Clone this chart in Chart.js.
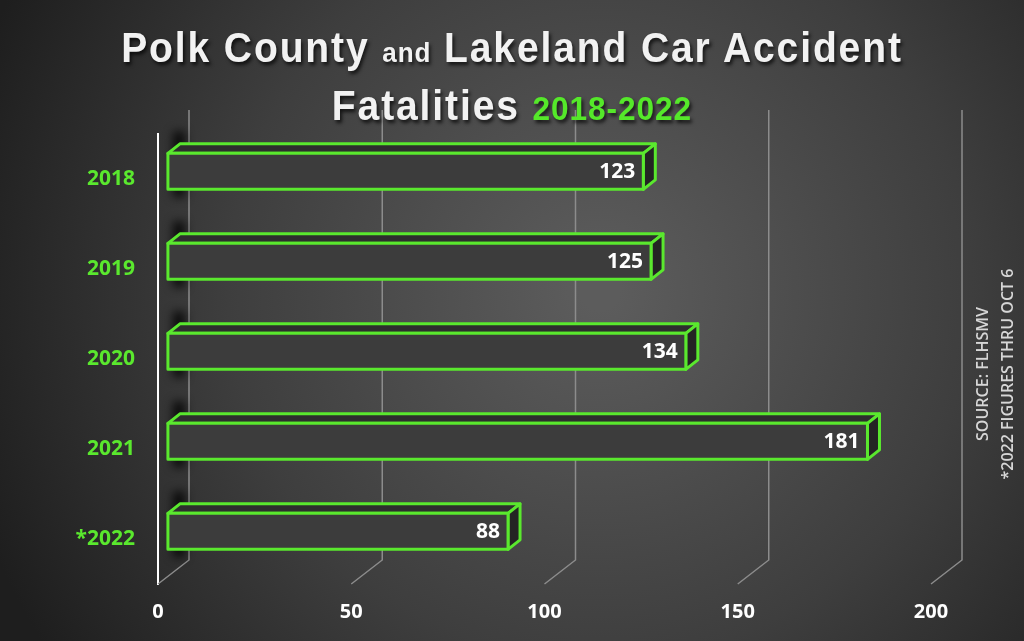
<!DOCTYPE html>
<html>
<head>
<meta charset="utf-8">
<script src="https://cdn.jsdelivr.net/npm/chart.js@4.4.1/dist/chart.umd.min.js"></script>
<style>
  html, body { margin: 0; padding: 0; background: #222; }
  #wrap { position: relative; width: 1024px; height: 641px; overflow: hidden; }
  #chart { position: absolute; left: 0; top: 0; }
  #title {
    position: absolute; left: 0; top: 21px; width: 1024px; text-align: center;
    font-family: "Liberation Sans", Arial, sans-serif;
    font-weight: bold; color: #f2f2f2; font-size: 42px; line-height: 53px;
    letter-spacing: 2px; text-shadow: 2px 3px 4px rgba(0,0,0,0.7);
    transform: scaleX(0.93); transform-origin: 512px 0;
  }
  #title .small { font-size: 28px; letter-spacing: 1px; }
  #title .green { color: #55e82a; font-size: 34px; letter-spacing: 1px; }
  #note {
    position: absolute; left: 995px; top: 374px; width: 280px;
    transform: translate(-50%, -50%) rotate(-90deg);
    text-align: center; font-family: "Open Sans", sans-serif; font-weight: 600;
    font-size: 16px; line-height: 25px; color: #d6d6d6;
  }
</style>
</head>
<body>
<div id="wrap">
  <canvas id="chart" width="1024" height="641"></canvas>
  <div id="title">Polk County <span class="small">and</span> Lakeland Car Accident<br>Fatalities <span class="green">2018-2022</span></div>
  <div id="note">SOURCE: FLHSMV<br>*2022 FIGURES THRU OCT 6</div>
</div>
<script>
// ── Data ──────────────────────────────────────
const years      = ['2018', '2019', '2020', '2021', '*2022'];
const fatalities = [123, 125, 134, 181, 88];
const xTicks     = [0, 50, 100, 150, 200];

const GREEN = '#5ae82e';
// depth of the 3D "room" (floor / back wall) and of the bars inside it
const ROOM  = { dx: 31, dy: -24 };
const FRONT = 0.32;              // bar front face position in the depth
const BAR_D = { dx: 12, dy: -9.5 };

// ── Background + 3D grid ──────────────────────
const roomPlugin = {
  id: 'room',
  beforeDraw(chart) {
    const { ctx, width, height } = chart;
    ctx.save();
    const g = ctx.createRadialGradient(600, 290, 20, 600, 290, 660);
    g.addColorStop(0, '#5c5c5c');
    g.addColorStop(0.55, '#3e3e3e');
    g.addColorStop(1, '#1e1e1e');
    ctx.fillStyle = g;
    ctx.fillRect(0, 0, width, height);
    ctx.restore();
  },
  beforeDatasetsDraw(chart) {
    const { ctx, chartArea: a, scales: { x } } = chart;
    ctx.save();
    // gridlines: floor diagonal + back wall vertical
    ctx.strokeStyle = '#8c8c8c';
    ctx.lineWidth = 1.5;
    xTicks.forEach((v) => {
      const px = x.getPixelForValue(v);
      ctx.beginPath();
      ctx.moveTo(px, a.bottom);
      ctx.lineTo(px + ROOM.dx, a.bottom + ROOM.dy);
      ctx.lineTo(px + ROOM.dx, a.top + ROOM.dy);
      ctx.stroke();
    });
    // shadows of the bars on the left wall
    const meta = chart.getDatasetMeta(0);
    ctx.filter = 'blur(5px)';
    ctx.fillStyle = 'rgba(0,0,0,0.8)';
    meta.data.forEach((bar) => {
      const top = bar.y - bar.height / 2 + ROOM.dy * FRONT;
      ctx.fillRect(a.left + 15, top - 22, 12, bar.height + 30);
    });
    ctx.restore();
  },
  afterDatasetsDraw(chart) {
    const { ctx } = chart;
    const meta = chart.getDatasetMeta(0);
    ctx.save();
    ctx.lineWidth = 3;
    ctx.lineJoin = 'round';
    ctx.strokeStyle = GREEN;
    meta.data.forEach((bar, i) => {
      const ox = ROOM.dx * FRONT, oy = ROOM.dy * FRONT;
      const x0 = bar.base + ox, x1 = bar.x + ox;
      const y0 = bar.y - bar.height / 2 + oy, y1 = bar.y + bar.height / 2 + oy;
      const { dx, dy } = BAR_D;
      // top face
      ctx.beginPath();
      ctx.moveTo(x0, y0); ctx.lineTo(x0 + dx, y0 + dy);
      ctx.lineTo(x1 + dx, y0 + dy); ctx.lineTo(x1, y0); ctx.closePath();
      ctx.fillStyle = '#2e2e2e'; ctx.fill(); ctx.stroke();
      // right face
      ctx.beginPath();
      ctx.moveTo(x1, y0); ctx.lineTo(x1 + dx, y0 + dy);
      ctx.lineTo(x1 + dx, y1 + dy); ctx.lineTo(x1, y1); ctx.closePath();
      ctx.fillStyle = '#242424'; ctx.fill(); ctx.stroke();
      // front face
      ctx.fillStyle = '#3c3c3c';
      ctx.fillRect(x0, y0, x1 - x0, y1 - y0);
      ctx.strokeRect(x0, y0, x1 - x0, y1 - y0);
      // value label
      ctx.fillStyle = '#ffffff';
      ctx.font = 'bold 21px "Open Sans", sans-serif';
      ctx.textAlign = 'right';
      ctx.textBaseline = 'middle';
      ctx.fillText(String(fatalities[i]), x1 - 8, (y0 + y1) / 2 + 1);
    });
    ctx.restore();
  }
};

// ── Chart ─────────────────────────────────────
new Chart(document.getElementById('chart'), {
  type: 'bar',
  data: {
    labels: years,
    datasets: [{
      data: fatalities,
      backgroundColor: 'rgba(0,0,0,0)',
      borderWidth: 0,
      barPercentage: 0.4,
      categoryPercentage: 1,
    }],
  },
  options: {
    indexAxis: 'y',
    responsive: false,
    animation: false,
    layout: { padding: { top: 134, right: 93, left: 0, bottom: 0 } },
    plugins: { legend: { display: false }, tooltip: { enabled: false } },
    scales: {
      x: {
        min: xTicks[0], max: xTicks[xTicks.length - 1],
        afterBuildTicks: (s) => { s.ticks = xTicks.map((v) => ({ value: v })); },
        afterFit: (s) => { s.height = 57; },
        grid: { display: false, drawTicks: false },
        border: { display: false },
        ticks: { color: '#ffffff', padding: 16, font: { family: 'Open Sans', weight: 'bold', size: 20 } },
      },
      y: {
        afterFit: (s) => { s.width = 158; },
        grid: { display: false, drawTicks: false },
        border: { display: true, color: '#ffffff', width: 2 },
        ticks: { color: GREEN, padding: 23, font: { family: 'Open Sans', weight: 'bold', size: 21 } },
      },
    },
  },
  plugins: [roomPlugin],
});
</script>
</body>
</html>
